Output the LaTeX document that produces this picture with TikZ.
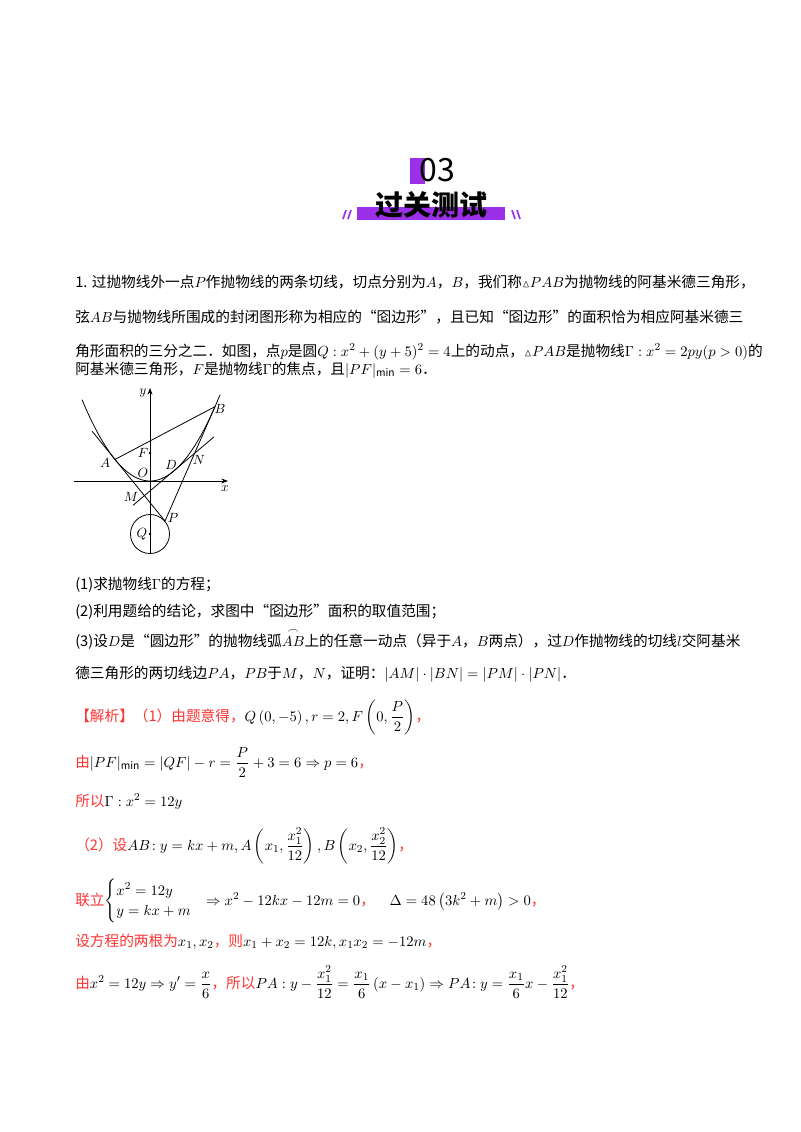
\documentclass[tikz,border=0pt]{standalone}
\usepackage{amsmath,amssymb}
\usepackage{fontspec}
\setmainfont{Noto Sans CJK SC}
\usetikzlibrary{arrows.meta}
\definecolor{pur}{HTML}{9B30E8}
\definecolor{rd}{HTML}{FF3333}
\newcommand{\stri}{{\scriptstyle\vartriangle}}
\begin{document}
\begin{tikzpicture}[x=0.75pt,y=-0.75pt,
  ln/.style={anchor=base west,inner sep=0,font=\fontsize{11pt}{13pt}\selectfont},
  rl/.style={ln,text=rd},
  lb/.style={inner sep=1pt,font=\fontsize{10pt}{12pt}\selectfont},
  cv/.style={line width=0.6pt}]
\useasboundingbox[fill=white] (0,0) rectangle (800,1132);
% header
\fill[pur] (410,158) rectangle (425,184);
\node[inner sep=0] (num) at (437,170) {\fontsize{24pt}{26pt}\selectfont 03};
\fill[pur] (357,207) rectangle (505,220);
\node[inner sep=0] (ttl) at (431,205) {\fontsize{21pt}{24pt}\selectfont\bfseries 过关测试};
\draw[pur,line width=1.2pt] (343,219)--(346,210) (348,219)--(351,210);
\draw[pur,line width=1.2pt] (512,210)--(515,219) (517,210)--(520,219);
% problem text
\node[ln] (l1) at (75,287) {1. 过抛物线外一点$P$作抛物线的两条切线，切点分别为$A$，$B$，我们称$\stri PAB$为抛物线的阿基米德三角形，};
\node[ln] (l2) at (75,322) {弦$AB$与抛物线所围成的封闭图形称为相应的“囵边形”，且已知“囵边形”的面积恰为相应阿基米德三};
\node[ln] (l3) at (75,356) {角形面积的三分之二．如图，点$p$是圆$Q:x^2+(y+5)^2=4$上的动点，$\stri PAB$是抛物线$\Gamma:x^2=2py(p>0)$的};
\node[ln] (l4) at (75,374) {阿基米德三角形，$F$是抛物线$\Gamma$的焦点，且$|PF|_{\min}=6$．};
% figure
\begin{scope}[shift={(150,481)}]
\draw[-{Stealth[length=5pt]},cv] (-76,0)--(78,0);
\draw[-{Stealth[length=5pt]},cv] (0,72)--(0,-93);
\draw[cv,domain=-68:70,samples=80] plot (\x,{-0.0176*\x*\x});
\coordinate (A) at (-35,-21.56);
\coordinate (B) at (65,-74.36);
\coordinate (P) at (15,40.04);
\coordinate (D) at (24,-10.14);
\coordinate (M) at (-5.5,14.78);
\coordinate (N) at (44.5,-27.46);
\coordinate (F) at (0,-28);
\coordinate (Q) at (0,53);
\coordinate (T1) at (-58,-49.9);
\coordinate (L1) at (-17,24.3);
\coordinate (L2) at (64,-44.1);
\draw[cv] (T1)--(P);
\draw[cv] (P)--(B);
\draw[cv] (A)--(B);
\draw[cv] (L1)--(L2);
\draw[cv] (Q) circle (19.5);
\fill (F) circle (1.3) (Q) circle (1.3);
\node[lb] (ly) at (-7,-88) {$y$};
\node[lb] (lx) at (75,8) {$x$};
\node[lb] (lB) at (70,-72) {$B$};
\node[lb] (lA) at (-45,-18) {$A$};
\node[lb] (lF) at (-7,-28) {$F$};
\node[lb] (lO) at (-7,-8) {$O$};
\node[lb] (lD) at (21,-16) {$D$};
\node[lb] (lN) at (49,-21) {$N$};
\node[lb] (lM) at (-19,16) {$M$};
\node[lb] (lP) at (23,37) {$P$};
\node[lb] (lQ) at (-8,53) {$Q$};
\end{scope}
% questions
\node[ln] (q1) at (75,589) {(1)求抛物线$\Gamma$的方程；};
\node[ln] (q2) at (75,616) {(2)利用题给的结论，求图中“囵边形”面积的取值范围；};
\node[ln] (q3) at (75,646) {(3)设$D$是“圆边形”的抛物线弧$\overset{\frown}{AB}$上的任意一动点（异于$A$，$B$两点），过$D$作抛物线的切线$l$交阿基米};
\node[ln] (q4) at (75,678) {德三角形的两切线边$PA$，$PB$于$M$，$N$，证明：$\left|AM\right|\cdot\left|BN\right|=\left|PM\right|\cdot\left|PN\right|$．};
% solution
\node[rl] (s1) at (75,721) {【解析】（1）由题意得，\textcolor{black}{$Q\left(0,-5\right),r=2,F\left(0,\dfrac{P}{2}\right)$}，};
\node[rl] (s2) at (75,767) {由\textcolor{black}{$|PF|_{\min}=|QF|-r=\dfrac{P}{2}+3=6\Rightarrow p=6$}，};
\node[rl] (s3) at (75,806) {所以\textcolor{black}{$\Gamma:x^2=12y$}};
\node[rl] (s4) at (75,850) {（2）设\textcolor{black}{$AB\!:y=kx+m,A\left(x_1,\dfrac{x_1^2}{12}\right),B\left(x_2,\dfrac{x_2^2}{12}\right)$}，};
\node[rl] (s5) at (75,905) {联立\textcolor{black}{$\begin{cases}x^2=12y\\ y=kx+m\end{cases}\!\!\Rightarrow x^2-12kx-12m=0$}，\quad\textcolor{black}{$\Delta=48\left(3k^2+m\right)>0$}，};
\node[rl] (s6) at (75,946) {设方程的两根为\textcolor{black}{$x_1,x_2$}，则\textcolor{black}{$x_1+x_2=12k,x_1x_2=-12m$}，};
\node[rl] (s7) at (75,988) {由\textcolor{black}{$x^2=12y\Rightarrow y'=\dfrac{x}{6}$}，所以\textcolor{black}{$PA:y-\dfrac{x_1^2}{12}=\dfrac{x_1}{6}\left(x-x_1\right)\Rightarrow PA\!:y=\dfrac{x_1}{6}x-\dfrac{x_1^2}{12}$}，};
\end{tikzpicture}
\end{document}
